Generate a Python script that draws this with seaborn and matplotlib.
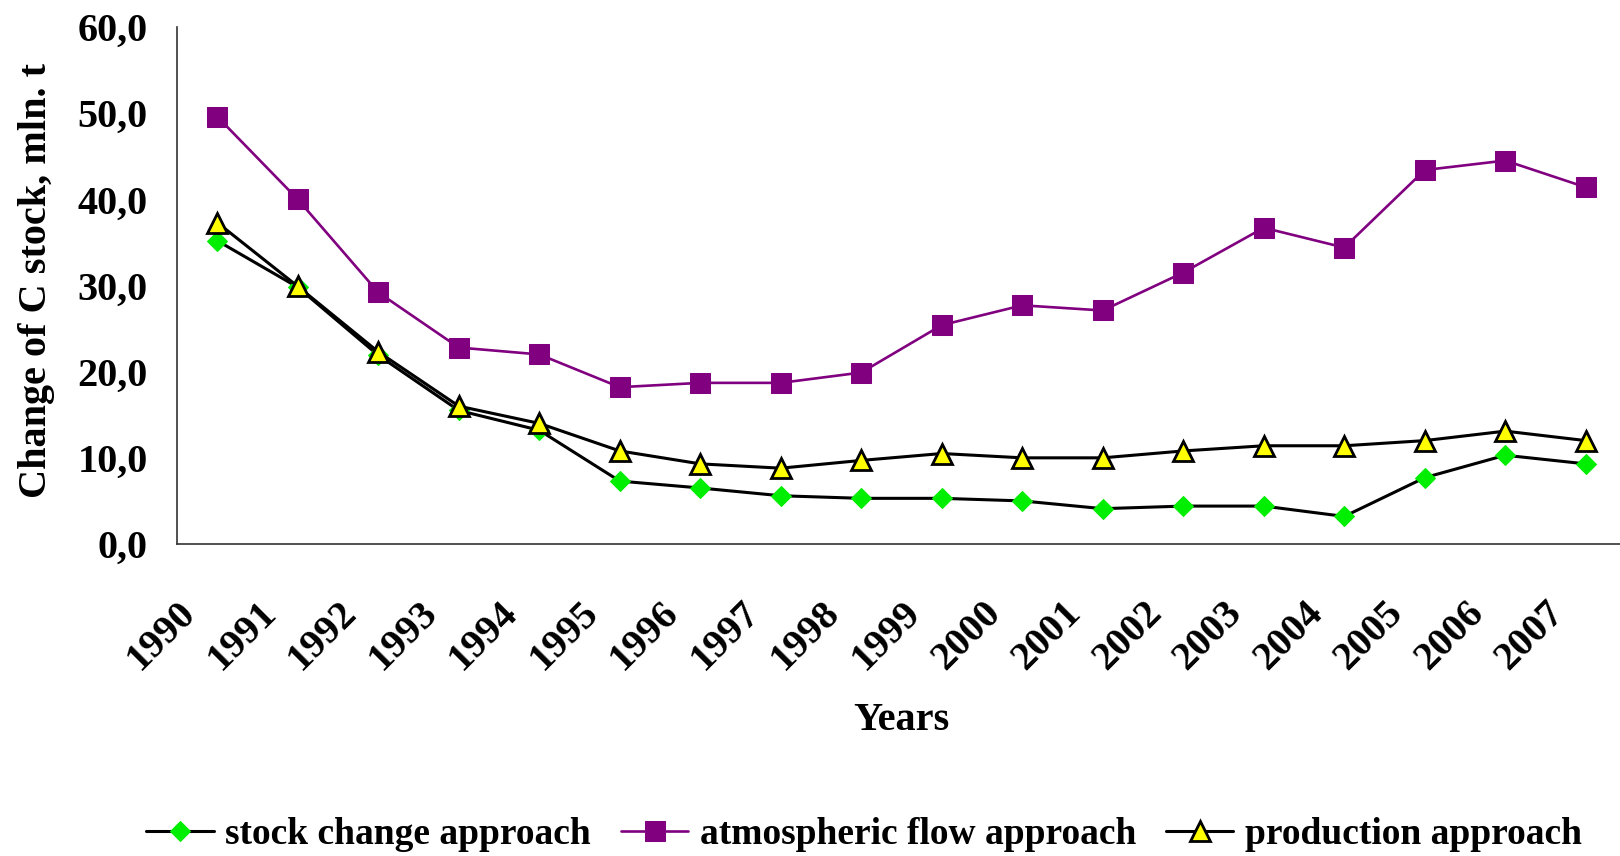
import numpy as np
import pandas as pd
import matplotlib
matplotlib.use("Agg")
import matplotlib.pyplot as plt
import matplotlib.transforms as mtransforms
import seaborn as sns

# data
years = [str(y) for y in range(1990, 2008)]
stock_change = [35.2, 29.8, 21.9, 15.5, 13.2, 7.3, 6.5, 5.6, 5.3, 5.3,
                5.0, 4.1, 4.4, 4.4, 3.2, 7.7, 10.3, 9.3]
atmospheric_flow = [49.6, 40.0, 29.2, 22.8, 22.0, 18.2, 18.7, 18.7, 19.9, 25.4,
                    27.7, 27.1, 31.5, 36.7, 34.4, 43.4, 44.5, 41.4]
production = [37.3, 29.9, 22.3, 16.0, 14.0, 10.8, 9.3, 8.8, 9.7, 10.5,
              10.0, 10.0, 10.8, 11.4, 11.4, 12.0, 13.1, 12.0]
series_names = ["stock change approach", "atmospheric flow approach", "production approach"]
y_ticks = [0, 10, 20, 30, 40, 50, 60]

df = pd.DataFrame({"year": years, "stock": stock_change,
                   "atm": atmospheric_flow, "prod": production})

sns.set_style("white")
plt.rcParams["font.family"] = ["Liberation Serif", "DejaVu Serif"]
plt.rcParams["font.weight"] = "bold"
for key in ["text.color", "axes.labelcolor", "xtick.color", "ytick.color"]:
    plt.rcParams[key] = "black"

fig = plt.figure(figsize=(16.2, 8.56), dpi=100)
ax = fig.add_axes([177 / 1620, 1 - 544 / 856, 1449 / 1620, 517 / 856])

sns.lineplot(data=df, x="year", y="stock", ax=ax, color="black", lw=2.2,
             marker="D", markersize=10, markerfacecolor="#00ee00",
             markeredgecolor="#00ee00", label=series_names[0], sort=False)
sns.lineplot(data=df, x="year", y="atm", ax=ax, color="#800080", lw=1.9,
             marker="s", markersize=14, markerfacecolor="#800080",
             markeredgecolor="#800080", label=series_names[1], sort=False)
sns.lineplot(data=df, x="year", y="prod", ax=ax, color="black", lw=2.2,
             marker="^", markersize=15, markerfacecolor="#ffff00",
             markeredgecolor="black", markeredgewidth=2, label=series_names[2], sort=False)

ax.set_ylim(0, 60)
ax.set_xlim(-0.5, len(years) - 0.5)
ax.set_yticks(y_ticks)
ax.set_yticklabels([f"{v:.1f}".replace(".", ",") for v in y_ticks], fontsize=29, fontweight="bold")

# labels at category centres, tick marks at category boundaries
ax.set_xticks(range(len(years)))
ax.set_xticklabels(years, rotation=45, ha="right", fontsize=29, fontweight="bold")
ax.set_xticks(np.arange(-0.5, len(years)), minor=True)
ax.tick_params(axis="x", which="major", length=0, pad=36)
ax.tick_params(axis="x", which="minor", length=9, width=1.2, color="#444444", direction="out")
ax.tick_params(axis="y", length=9, width=1.2, color="#444444", direction="out", pad=12)
shift = mtransforms.ScaledTranslation(-14 / 100, 0, fig.dpi_scale_trans)
for lab in ax.get_xticklabels():
    lab.set_transform(lab.get_transform() + shift)

for side in ["top", "right"]:
    ax.spines[side].set_visible(False)
for side in ["left", "bottom"]:
    ax.spines[side].set_color("#333333")
    ax.spines[side].set_linewidth(1.2)

ax.set_xlabel("Years", fontsize=29, fontweight="bold")
ax.set_ylabel("Change of C stock, mln. t", fontsize=29, fontweight="bold")
ax.xaxis.set_label_coords(0.5, -0.305)
ax.yaxis.set_label_coords(-0.084, 0.51)

ax.legend(loc="center", bbox_to_anchor=(864 / 1620, 1 - 835 / 856),
          bbox_transform=fig.transFigure, ncol=3, frameon=False,
          prop={"size": 27, "weight": "bold"}, handlelength=1.8,
          handletextpad=0.3, columnspacing=0.8, borderaxespad=0)

fig.savefig("out.png", dpi=100)
